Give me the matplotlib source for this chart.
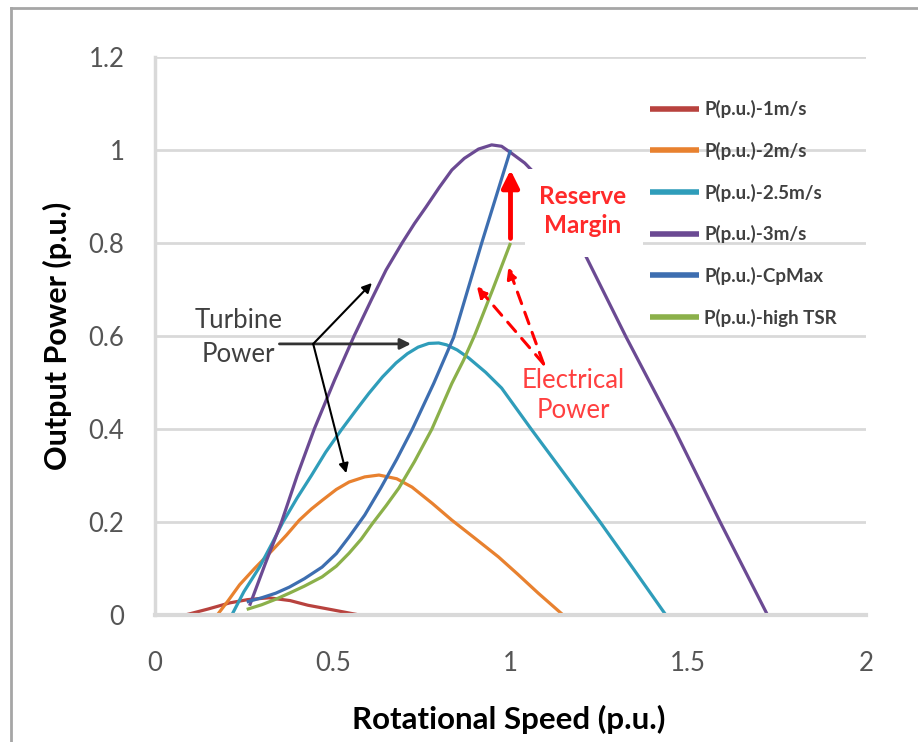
import matplotlib
matplotlib.use("Agg")
import matplotlib.pyplot as plt
from matplotlib.lines import Line2D
from matplotlib.patches import Rectangle

plt.rcParams['font.family'] = ['Lato', 'DejaVu Sans']

# ---------------- data ----------------
x_1ms = [0.085, 0.15, 0.21, 0.26, 0.32, 0.38, 0.43, 0.50, 0.575]
y_1ms = [0.0, 0.013, 0.026, 0.033, 0.037, 0.031, 0.021, 0.011, 0.0]

x_2ms = [0.175, 0.205, 0.238, 0.28, 0.331, 0.37, 0.406, 0.44, 0.471, 0.51, 0.546, 0.59,
         0.63, 0.68, 0.723, 0.78, 0.835, 0.90, 0.966, 1.02, 1.078, 1.148]
y_2ms = [0.0, 0.03, 0.065, 0.10, 0.14, 0.172, 0.204, 0.228, 0.247, 0.27, 0.286, 0.297,
         0.301, 0.293, 0.275, 0.24, 0.204, 0.165, 0.125, 0.088, 0.047, 0.0]

x_25ms = [0.216, 0.25, 0.294, 0.33, 0.36, 0.40, 0.44, 0.48, 0.524, 0.565, 0.602, 0.64,
          0.678, 0.71, 0.74, 0.77, 0.798, 0.82, 0.85, 0.882, 0.93, 0.975, 1.058,
          1.155, 1.252, 1.345, 1.437]
y_25ms = [0.0, 0.05, 0.103, 0.155, 0.2, 0.252, 0.3, 0.35, 0.398, 0.44, 0.477, 0.512,
          0.542, 0.562, 0.576, 0.584, 0.585, 0.581, 0.57, 0.553, 0.522, 0.488, 0.4,
          0.3, 0.2, 0.1, 0.0]

x_3ms = [0.266, 0.31, 0.356, 0.40, 0.448, 0.505, 0.56, 0.61, 0.65, 0.695, 0.73, 0.762,
         0.80, 0.835, 0.87, 0.91, 0.947, 0.975, 1.003, 1.04, 1.073, 1.14, 1.213, 1.325,
         1.462, 1.591, 1.723]
y_3ms = [0.02, 0.11, 0.2, 0.30, 0.4, 0.505, 0.6, 0.68, 0.742, 0.8, 0.842, 0.877,
         0.92, 0.957, 0.982, 1.002, 1.011, 1.008, 0.993, 0.972, 0.946, 0.865, 0.77, 0.598,
         0.398, 0.198, 0.0]

x_cpmax = [0.258, 0.30, 0.34, 0.378, 0.42, 0.47, 0.51, 0.546, 0.59, 0.635, 0.68, 0.724,
           0.784, 0.84, 0.88, 0.919, 1.0]
y_cpmax = [0.028, 0.037, 0.047, 0.06, 0.078, 0.103, 0.132, 0.168, 0.215, 0.273, 0.335,
           0.4, 0.498, 0.597, 0.70, 0.8, 1.0]

x_tsr = [0.258, 0.30, 0.34, 0.378, 0.42, 0.47, 0.51, 0.546, 0.58, 0.61, 0.65, 0.686,
         0.73, 0.779, 0.835, 0.868, 0.9, 0.95, 1.0]
y_tsr = [0.012, 0.022, 0.034, 0.047, 0.062, 0.082, 0.105, 0.133, 0.163, 0.195, 0.235,
         0.273, 0.33, 0.4, 0.498, 0.548, 0.603, 0.70, 0.8]

labels = ['P(p.u.)-1m/s', 'P(p.u.)-2m/s', 'P(p.u.)-2.5m/s', 'P(p.u.)-3m/s',
          'P(p.u.)-CpMax', 'P(p.u.)-high TSR']
xs = [x_1ms, x_2ms, x_25ms, x_3ms, x_cpmax, x_tsr]
ys = [y_1ms, y_2ms, y_25ms, y_3ms, y_cpmax, y_tsr]
colors = ['#B8423E', '#E8812F', '#2F9DBA', '#6B4A93', '#3D6EB0', '#8BB04A']

x_ticks = [0, 0.5, 1, 1.5, 2]
x_tick_labels = ['0', '0.5', '1', '1.5', '2']
y_ticks = [0, 0.2, 0.4, 0.6, 0.8, 1.0, 1.2]
y_tick_labels = ['0', '0.2', '0.4', '0.6', '0.8', '1', '1.2']

# ---------------- figure ----------------
W, H = 918, 742
fig = plt.figure(figsize=(W / 100, H / 100), dpi=100)
ax = fig.add_axes([155 / W, 1 - 615 / H, (866 - 155) / W, (615 - 57) / H])

grid_c = '#D9D9D9'
ax.set_xlim(0, 2)
ax.set_ylim(0, 1.2)
ax.set_xticks(x_ticks)
ax.set_xticklabels(x_tick_labels)
ax.set_yticks(y_ticks)
ax.set_yticklabels(y_tick_labels)
ax.tick_params(axis='both', length=0, labelsize=18.5, labelcolor='#555555')
ax.tick_params(axis='x', pad=26)
ax.tick_params(axis='y', pad=22)
ax.yaxis.grid(True, color=grid_c, lw=2.0)
ax.set_axisbelow(True)
for s in ['top', 'right']:
    ax.spines[s].set_visible(False)
ax.spines['left'].set_color(grid_c)
ax.spines['left'].set_linewidth(2.5)
ax.spines['bottom'].set_color(grid_c)
ax.spines['bottom'].set_linewidth(3.0)

handles = []
for xv, yv, c, lab in zip(xs, ys, colors, labels):
    h, = ax.plot(xv, yv, color=c, lw=2.3, label=lab, clip_on=False,
                 solid_capstyle='butt', solid_joinstyle='round', zorder=2)
    handles.append(h)

# white box behind "Reserve Margin"
ax.add_patch(Rectangle((1.042, 0.77), 0.33, 0.19, facecolor='white',
                       edgecolor='none', zorder=3))

leg = ax.legend(handles=handles, labels=labels, loc='upper left',
                bbox_to_anchor=(650 / W, 1 - 100 / H), bbox_transform=fig.transFigure,
                frameon=False, fontsize=13.5, handlelength=2.6, handletextpad=0.3,
                labelspacing=1.26, borderpad=0, borderaxespad=0)
for t in leg.get_texts():
    t.set_fontweight('bold')
    t.set_color('#404040')
for lh in leg.get_lines():
    lh.set_linewidth(4)

# Turbine power annotations
ax.text(0.235, 0.597, 'Turbine\nPower', ha='center', va='center', fontsize=18.5,
        color='#404040', linespacing=1.45, zorder=4)
ax.annotate('', xy=(0.72, 0.583), xytext=(0.35, 0.583),
            arrowprops=dict(arrowstyle='-|>', color='#333333', lw=2.0,
                            mutation_scale=16, shrinkA=0, shrinkB=0), zorder=4)
ax.annotate('', xy=(0.61, 0.714), xytext=(0.445, 0.583),
            arrowprops=dict(arrowstyle='-|>', color='black', lw=1.5,
                            mutation_scale=14, shrinkA=0, shrinkB=0), zorder=4)
ax.annotate('', xy=(0.538, 0.305), xytext=(0.445, 0.583),
            arrowprops=dict(arrowstyle='-|>', color='black', lw=1.5,
                            mutation_scale=14, shrinkA=0, shrinkB=0), zorder=4)

# Reserve margin
ax.annotate('', xy=(1.0, 0.957), xytext=(1.0, 0.81),
            arrowprops=dict(arrowstyle='-|>', color='#FF0000', lw=3.5,
                            mutation_scale=26, shrinkA=0, shrinkB=0), zorder=5)
ax.text(1.204, 0.869, 'Reserve\nMargin', ha='center', va='center', fontsize=17.5,
        fontweight='bold', color='#FF2A2A', linespacing=1.3, zorder=5)

# Electrical power
ax.text(1.176, 0.473, 'Electrical\nPower', ha='center', va='center', fontsize=18.5,
        color='#FF4040', linespacing=1.25, zorder=5)
for tip in [(0.994, 0.748), (0.905, 0.707)]:
    ax.annotate('', xy=tip, xytext=(1.093, 0.54),
                arrowprops=dict(arrowstyle='-|>', color='#FF0000', lw=2.2,
                                linestyle=(0, (4, 3)), mutation_scale=16,
                                shrinkA=0, shrinkB=0), zorder=5)

# axis titles
fig.text(57 / W, 1 - 336 / H, 'Output Power (p.u.)', rotation=90, ha='center',
         va='center', fontsize=22, fontweight='bold', color='black')
fig.text(509 / W, 1 - 719 / H, 'Rotational Speed (p.u.)', ha='center',
         va='center', fontsize=22.5, fontweight='bold', color='black')

# outer chart border (partial, as in the cropped reference)
fig.add_artist(Line2D([11 / W, 11 / W], [0, 1 - 8 / H], transform=fig.transFigure,
                      color='#A6A6A6', lw=2))
fig.add_artist(Line2D([11 / W, 1], [1 - 8 / H, 1 - 8 / H], transform=fig.transFigure,
                      color='#A6A6A6', lw=2))

fig.savefig('out.png', dpi=100)
